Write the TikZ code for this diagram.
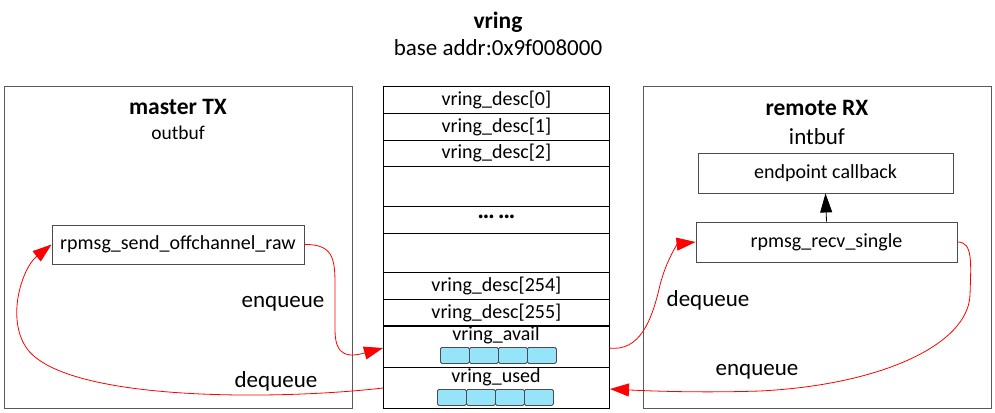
\documentclass[tikz,border=0pt]{standalone}
\usepackage{fontspec}
\setmainfont{Carlito}
\usetikzlibrary{arrows.meta}
\definecolor{cellblue}{RGB}{150,228,250}
\begin{document}
\begin{tikzpicture}[x=1pt,y=-1pt,
  panel/.style={draw=black!65,line width=0.9pt,anchor=north west,inner sep=0pt},
  fbox/.style={draw=black!70,line width=0.9pt,inner sep=0pt,font=\fontsize{20}{22}\selectfont},
  row/.style={draw=black,line width=0.8pt,anchor=north west,minimum width=226pt,inner sep=0pt,font=\fontsize{20}{22}\selectfont},
  cell/.style={draw=black!70,fill=cellblue,rounded corners=1.5pt,minimum width=29pt,minimum height=16pt,inner sep=0pt,line width=0.8pt,anchor=north west},
  lbl/.style={font=\fontsize{23}{25}\selectfont},
  ttl/.style={font=\fontsize{23.5}{25}\selectfont\bfseries},
  redarrow/.style={draw=red,line width=0.8pt,-{Triangle[length=19pt,width=13pt]}},
]
\useasboundingbox (0,0) rectangle (995,412);
\fill[white] (0,0) rectangle (995,412);

% title
\node[ttl] (vtitle) at (498,22) {vring};
\node[lbl] (vaddr) at (498,48) {base addr:0x9f008000};

% master panel
\node[panel,minimum width=348pt,minimum height=322pt] (master) at (4,86) {};
\node[ttl] (mtitle) at (178,107) {master TX};
\node[font=\fontsize{19.5}{22}\selectfont] (mout) at (178,133) {outbuf};
\node[fbox,minimum width=252pt,minimum height=39pt] (send) at (178,244.5) {rpmsg\_send\_offchannel\_raw};

% remote panel
\node[panel,minimum width=348pt,minimum height=322pt] (remote) at (643,86) {};
\node[ttl] (rtitle) at (817,108) {remote RX};
\node[lbl] (rin) at (817,137) {intbuf};
\node[fbox,minimum width=255pt,minimum height=40pt] (cb) at (825.5,173) {endpoint callback};
\node[fbox,minimum width=261pt,minimum height=40pt] (recv) at (826.5,242) {rpmsg\_recv\_single};
\draw[line width=0.8pt,-{Triangle[length=19pt,width=12pt]}] (recv.north) -- (cb.south);

% vring column
\node[row,minimum height=27pt] (d0) at (383,86) {vring\_desc[0]};
\node[row,minimum height=27pt] (d1) at (383,113) {vring\_desc[1]};
\node[row,minimum height=26pt] (d2) at (383,140) {vring\_desc[2]};
\node[row,minimum height=40pt] (e1) at (383,166) {};
\node[row,minimum height=27pt,font=\fontsize{20}{22}\selectfont\bfseries] (dots) at (383,206) {\raisebox{3pt}{··· ···}};
\node[row,minimum height=39pt] (e2) at (383,233) {};
\node[row,minimum height=27pt] (d254) at (383,272) {vring\_desc[254]};
\node[row,minimum height=27pt] (d255) at (383,299) {vring\_desc[255]};
\node[row,minimum height=41pt] (avail) at (383,326) {};
\node[row,minimum height=41pt] (used) at (383,367) {};
\draw[line width=1.6pt] (avail.north west) -- (avail.north east);
\node[font=\fontsize{20}{22}\selectfont] (availt) at (496,335) {vring\_avail};
\node[font=\fontsize{20}{22}\selectfont] (usedt) at (496,377) {vring\_used};
\foreach \i in {0,1,2,3} {
  \node[cell] (a\i) at (440+29*\i,347) {};
  \node[cell] (u\i) at (437+29*\i,389) {};
}

\coordinate (availW) at (383,348);
\coordinate (availE) at (609,348);
\coordinate (usedW) at (383,388);
\coordinate (usedE) at (610,389);

% curves
\path[redarrow] (send.east) .. controls (336,244) and (335,262) .. (335,292) -- (335,330) .. controls (335,358) and (350,357) .. (availW);
\path[redarrow] (usedW) .. controls (280,400) and (70,402) .. (28,350) .. controls (5,320) and (22,268) .. (send.west);
\path[redarrow] (availE) .. controls (640,352) and (652,320) .. (660,285) .. controls (667,258) and (678,244) .. (recv.west);
\path[redarrow] (recv.east) .. controls (973,242) and (971,262) .. (970,295) .. controls (968,345) and (880,385) .. (760,391) .. controls (700,393) and (650,391) .. (usedE);

% labels
\node[lbl] (enq1) at (283,304) {enqueue};
\node[lbl] (deq1) at (276,381) {dequeue};
\node[lbl] (deq2) at (708,300) {dequeue};
\node[lbl] (enq2) at (757,372) {enqueue};
\end{tikzpicture}
\end{document}
